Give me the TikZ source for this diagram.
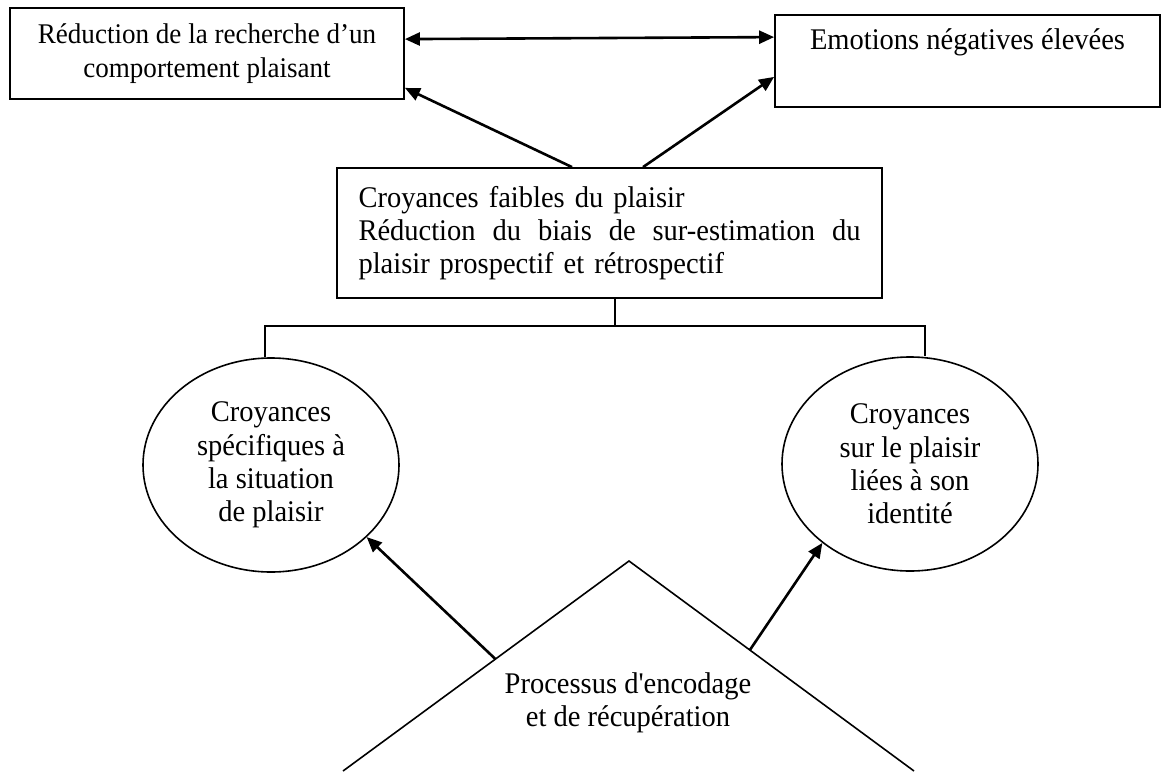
\documentclass[tikz,border=0pt]{standalone}
\usepackage{fontspec}
\setmainfont{Liberation Serif}
\newfontfamily\plainserif{Liberation Serif}[FakeStretch=0.95]
\usetikzlibrary{arrows.meta,shapes.geometric,calc}

\begin{document}
\begin{tikzpicture}[x=1pt,y=-1pt,
  every node/.style={font=\plainserif\fontsize{30}{33.3}\selectfont, text=black},
  boxnode/.style={draw, line width=1.8pt, rectangle, inner sep=0pt},
  ellnode/.style={draw, line width=1.6pt, ellipse, minimum width=256pt, minimum height=214pt, inner sep=0pt, align=center},
  arr/.style={line width=2.6pt, -{Triangle[length=15pt,width=13pt]}},
  darr/.style={line width=2.6pt, {Triangle[length=15pt,width=13pt]}-{Triangle[length=15pt,width=13pt]}},
  tree/.style={line width=1.8pt},
]
\useasboundingbox (0,0) rectangle (1161,771);

\node[boxnode, minimum width=394pt, minimum height=91pt, align=center,
      font=\plainserif\fontsize{28.5}{33.5}\selectfont] (b1) at (207,53.5)
  {Réduction de la recherche d’un\\comportement plaisant};
\node[boxnode, minimum width=385pt, minimum height=92pt, align=center] (emo) at (967.5,61)
  {Emotions négatives élevées\\\strut};
\node[boxnode, text width=502pt, inner xsep=21.5pt, minimum height=130pt, align=left] (cb) at (609.5,233)
  {Croyances faibles du plaisir\\\makebox[502pt][s]{Réduction\hfill du\hfill biais\hfill de\hfill sur-estimation\hfill du}\\plaisir prospectif et rétrospectif};

\node[ellnode] (e1) at (271,465) {Croyances\\spécifiques à\\la situation\\de plaisir};
\node[ellnode] (e2) at (910,464) {Croyances\\sur le plaisir\\liées à son\\identité};

\coordinate (apex) at (629,561);
\coordinate (bl) at (343,771);
\coordinate (br) at (914,771);
\draw[line width=1.6pt, line join=miter] (bl) -- (apex) -- (br);
\node[align=center] (proc) at (628,703) {Processus d'encodage\\et de récupération};

\draw[darr] ([yshift=-32pt]b1.north east) -- ([yshift=-23pt]emo.north west);
\draw[arr] ([xshift=-37.5pt]cb.north) -- ([yshift=12pt]b1.south east);
\draw[arr] ([xshift=33.5pt]cb.north) -- ([yshift=31pt]emo.south west);

\coordinate (cbs) at ([xshift=5.5pt]cb.south);
\coordinate (e1t) at ([xshift=-6pt]e1.north);
\coordinate (e2t) at ([xshift=15pt]e2.north);
\draw[tree] (e1t) -- ++(0,31pt) coordinate (tl) -| (e2t);
\draw[tree] (cbs) -- (cbs |- tl);

\draw[arr] ($(apex)!0.467!(bl)$) -- (e1.-37.5);
\draw[arr] ($(apex)!0.424!(br)$) -- (e2.222.6);
\end{tikzpicture}
\end{document}
